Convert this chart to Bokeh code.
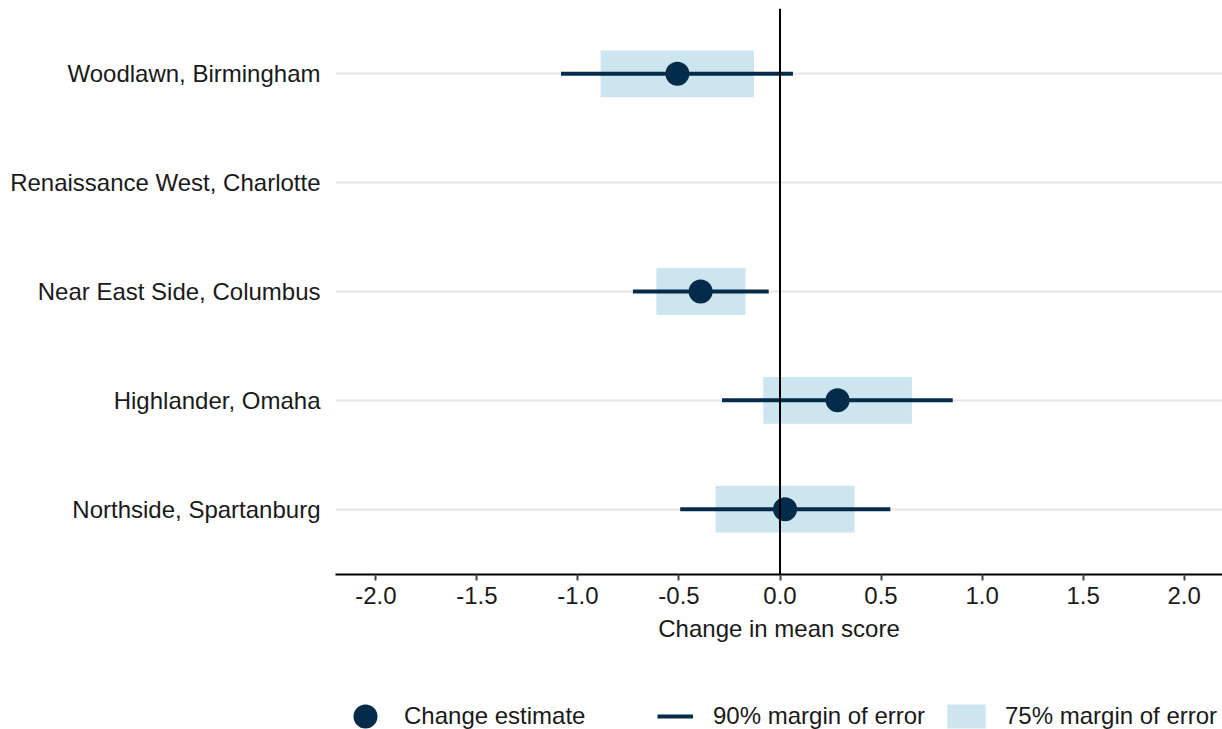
from bokeh.plotting import figure
from bokeh.models import (ColumnDataSource, FixedTicker, Span, Legend, LegendItem, Range1d)
from bokeh.layouts import column
from bokeh.embed import file_html
from bokeh.resources import INLINE

nan = float("nan")

sites = ["Woodlawn, Birmingham", "Renaissance West, Charlotte",
         "Near East Side, Columbus", "Highlander, Omaha", "Northside, Spartanburg"]
estimate = [-0.508, nan, -0.393, 0.285, 0.025]
lo90 = [-1.084, nan, -0.728, -0.287, -0.494]
hi90 = [0.064, nan, -0.056, 0.855, 0.546]
lo75 = [-0.888, nan, -0.612, -0.083, -0.319]
hi75 = [-0.129, nan, -0.171, 0.653, 0.369]

x_ticks = [-2.0, -1.5, -1.0, -0.5, 0.0, 0.5, 1.0, 1.5, 2.0]
x_tick_labels = ["-2.0", "-1.5", "-1.0", "-0.5", "0.0", "0.5", "1.0", "1.5", "2.0"]
legend_labels = ["Change estimate", "90% margin of error", "75% margin of error"]

NAVY = "#052b4a"
LIGHT = "#cce5ee"
FONT = "Liberation Sans"
TXT = "#1a1a1a"

n = len(sites)
ypos = [n - i for i in range(n)]
box_h = 0.43

src = ColumnDataSource(dict(
    y=ypos, est=estimate, lo90=lo90, hi90=hi90, lo75=lo75, hi75=hi75,
    top=[v + box_h / 2 for v in ypos], bottom=[v - box_h / 2 for v in ypos],
))

p = figure(width=1222, height=660, output_backend="svg", toolbar_location=None,
           x_range=Range1d(-2.2, 2.19), y_range=Range1d(0.4, n + 0.6),
           min_border_left=335, min_border_right=0, min_border_top=8,
           min_border_bottom=86)
p.outline_line_color = None
p.background_fill_color = "white"

p.quad(left="lo75", right="hi75", top="top", bottom="bottom", source=src,
       fill_color=LIGHT, line_color=None)
p.segment(x0="lo90", x1="hi90", y0="y", y1="y", source=src,
          line_color=NAVY, line_width=4)
p.scatter(x="est", y="y", source=src, size=24, fill_color=NAVY,
          line_color=None, marker="circle")

p.add_layout(Span(location=0, dimension="height", line_color="black", line_width=2))

# axes
p.xaxis.ticker = FixedTicker(ticks=x_ticks)
p.xaxis.major_label_overrides = {t: l for t, l in zip(x_ticks, x_tick_labels)}
p.xaxis.axis_label = "Change in mean score"
p.xaxis.axis_label_text_font = FONT
p.xaxis.axis_label_text_font_size = "24px"
p.xaxis.axis_label_text_font_style = "normal"
p.xaxis.axis_label_text_color = TXT
p.xaxis.axis_label_standoff = 8
p.xaxis.major_label_text_font = FONT
p.xaxis.major_label_text_font_size = "24px"
p.xaxis.major_label_text_color = TXT
p.xaxis.major_label_standoff = 6
p.xaxis.axis_line_color = "black"
p.xaxis.axis_line_width = 2
p.xaxis.major_tick_line_color = "#444444"
p.xaxis.major_tick_line_width = 2
p.xaxis.major_tick_out = 6
p.xaxis.major_tick_in = 0
p.xaxis.minor_tick_line_color = None

p.yaxis.ticker = FixedTicker(ticks=ypos)
p.yaxis.major_label_overrides = {v: s for v, s in zip(ypos, sites)}
p.yaxis.major_label_text_font = FONT
p.yaxis.major_label_text_font_size = "24px"
p.yaxis.major_label_text_color = TXT
p.yaxis.axis_line_color = None
p.yaxis.major_tick_line_color = None
p.yaxis.minor_tick_line_color = None
p.yaxis.major_tick_out = 0
p.yaxis.major_tick_in = 0
p.yaxis.major_label_standoff = 15

p.xgrid.grid_line_color = None
p.ygrid.ticker = FixedTicker(ticks=ypos)
p.ygrid.grid_line_color = "#e5e5e5"
p.ygrid.grid_line_width = 2

# legend strip (separate figure so that each key can have its own size)
pl = figure(width=1222, height=69, output_backend="svg", toolbar_location=None,
            x_range=Range1d(0, 1), y_range=Range1d(0, 1),
            x_axis_location=None, y_axis_location=None,
            min_border_left=0, min_border_right=0, min_border_top=0,
            min_border_bottom=0)
pl.outline_line_color = None
pl.xgrid.grid_line_color = None
pl.ygrid.grid_line_color = None

# proxy renderers (no visible data) that only serve as legend keys
k_pt = pl.scatter(x=[nan], y=[nan], size=24, fill_color=NAVY, line_color=None,
                  marker="circle")
k_seg = pl.segment(x0=[nan], x1=[nan], y0=[nan], y1=[nan], line_color=NAVY, line_width=4)
k_box = pl.quad(left=[nan], right=[nan], top=[nan], bottom=[nan], fill_color=LIGHT,
                line_color=None)


def make_legend(label, rend, gw, gh, standoff, loc):
    leg = Legend(items=[LegendItem(label=label, renderers=[rend])],
                 location=loc, glyph_width=gw, glyph_height=gh,
                 label_standoff=standoff, padding=0, margin=0, spacing=0,
                 border_line_color=None, background_fill_alpha=0,
                 label_text_font=FONT, label_text_font_size="24px",
                 label_text_color=TXT)
    pl.add_layout(leg, "center")


make_legend(legend_labels[0], k_pt, 60, 60, 9, (0, -17))
make_legend(legend_labels[1], k_seg, 36, 30, 20, (322, -2))
make_legend(legend_labels[2], k_box, 48, 30, 15, (607, -2))

layout = column(p, pl, spacing=0)
open("out.html", "w").write(file_html(layout, INLINE))
